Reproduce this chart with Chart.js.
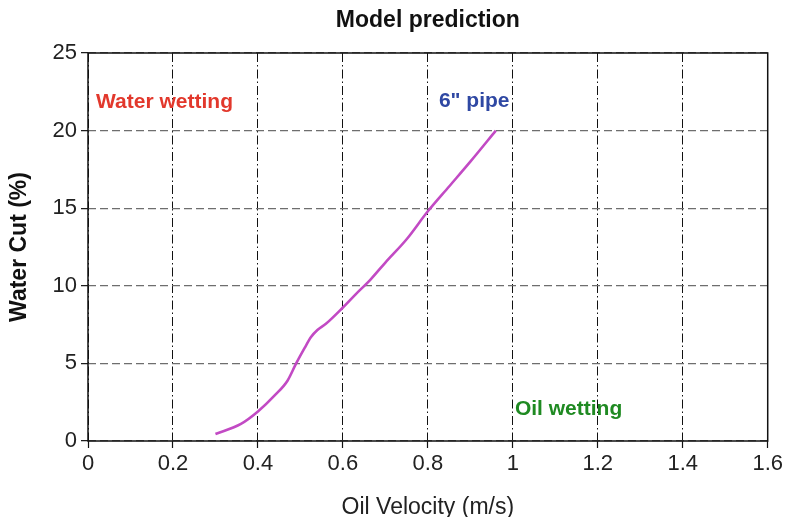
<!DOCTYPE html>
<html>
<head>
<meta charset="utf-8">
<script src="https://cdn.jsdelivr.net/npm/chart.js@4"></script>
<style>
  body { margin: 0; background: #fff; }
  #wrap { width: 786px; height: 517px; }
</style>
</head>
<body>
<div id="wrap"><canvas id="chart" width="786" height="517"></canvas></div>
<script>
// oil velocity (m/s) vs. water cut (%) along the wetting boundary
const velocity = [0.30, 0.36, 0.40, 0.44, 0.47, 0.49, 0.51, 0.525, 0.54, 0.56, 0.60, 0.63, 0.665, 0.70, 0.75, 0.80, 0.85, 0.90, 0.96];
const waterCut = [0.45, 1.1, 1.9, 2.95, 3.9, 5.0, 6.0, 6.7, 7.15, 7.55, 8.6, 9.45, 10.4, 11.5, 13.0, 14.8, 16.4, 18.0, 20.0];

const xTickLabels = ["0", "0.2", "0.4", "0.6", "0.8", "1", "1.2", "1.4", "1.6"];
const yTickLabels = ["0", "5", "10", "15", "20", "25"];

// region labels, placed in data units
const notes = [
    { text: "Water wetting", x: 0.019, y: 21.8, color: "#e2382c" },
    { text: "6\" pipe", x: 0.826, y: 21.9, color: "#2f48a3" },
    { text: "Oil wetting", x: 1.005, y: 2.05, color: "#1f8a22" }
];

const FONT = "'Liberation Sans', Arial, Helvetica, sans-serif";

const extras = {
    id: "extras",
    afterDraw(chart) {
        const { ctx, chartArea: a, scales } = chart;
        ctx.save();
        // frame
        ctx.strokeStyle = "#111";
        ctx.lineWidth = 1.5;
        ctx.strokeRect(a.left, a.top, a.right - a.left, a.bottom - a.top);
        // title over the plot area
        ctx.fillStyle = "#111";
        ctx.font = "bold 23px " + FONT;
        ctx.textAlign = "center";
        ctx.textBaseline = "middle";
        ctx.fillText("Model prediction", (a.left + a.right) / 2, 21);
        // region labels
        ctx.font = "bold 21px " + FONT;
        ctx.textAlign = "left";
        notes.forEach((n) => {
            ctx.fillStyle = n.color;
            ctx.fillText(n.text, scales.x.getPixelForValue(n.x), scales.y.getPixelForValue(n.y));
        });
        ctx.restore();
    }
};

new Chart(document.getElementById("chart"), {
    type: "scatter",
    data: {
        datasets: [
            {
                data: velocity.map((v, i) => ({ x: v, y: waterCut[i] })),
                showLine: true,
                borderColor: "#c24ac4",
                borderWidth: 2.6,
                pointRadius: 0,
                cubicInterpolationMode: "monotone"
            }
        ]
    },
    options: {
        responsive: false,
        animation: false,
        layout: { padding: { top: 53, right: 18, bottom: 0, left: 0 } },
        plugins: {
            legend: { display: false },
            tooltip: { enabled: false }
        },
        scales: {
            x: {
                type: "linear",
                min: 0,
                max: 1.6,
                afterFit: (s) => { s.height = 76; },
                ticks: {
                    stepSize: 0.2,
                    color: "#222",
                    font: { family: FONT, size: 22 },
                    padding: 3,
                    maxRotation: 0,
                    callback: (v, i) => xTickLabels[i]
                },
                grid: {
                    color: "#111",
                    lineWidth: 1,
                    tickLength: 7,
                    tickColor: "#111",
                    tickWidth: 1.2
                },
                border: { display: false, dash: [9, 3, 1.5, 3] },
                title: {
                    display: true,
                    text: "Oil Velocity (m/s)",
                    color: "#222",
                    font: { family: FONT, size: 23, lineHeight: 0.85 },
                    padding: { top: 0, bottom: 0 }
                }
            },
            y: {
                min: 0,
                max: 25,
                afterFit: (s) => { s.width = 88; },
                ticks: {
                    stepSize: 5,
                    color: "#222",
                    font: { family: FONT, size: 22 },
                    padding: 4,
                    callback: (v, i) => yTickLabels[i]
                },
                grid: {
                    color: "#6e6e6e",
                    lineWidth: 1.3,
                    tickLength: 7,
                    tickColor: "#111",
                    tickWidth: 1.2
                },
                border: { display: false, dash: [8, 4] },
                title: {
                    display: true,
                    text: "Water Cut (%)",
                    color: "#111",
                    font: { family: FONT, size: 23, weight: "bold" },
                    padding: { top: 6, bottom: 0 }
                }
            }
        }
    },
    plugins: [extras]
});
</script>
</body>
</html>
